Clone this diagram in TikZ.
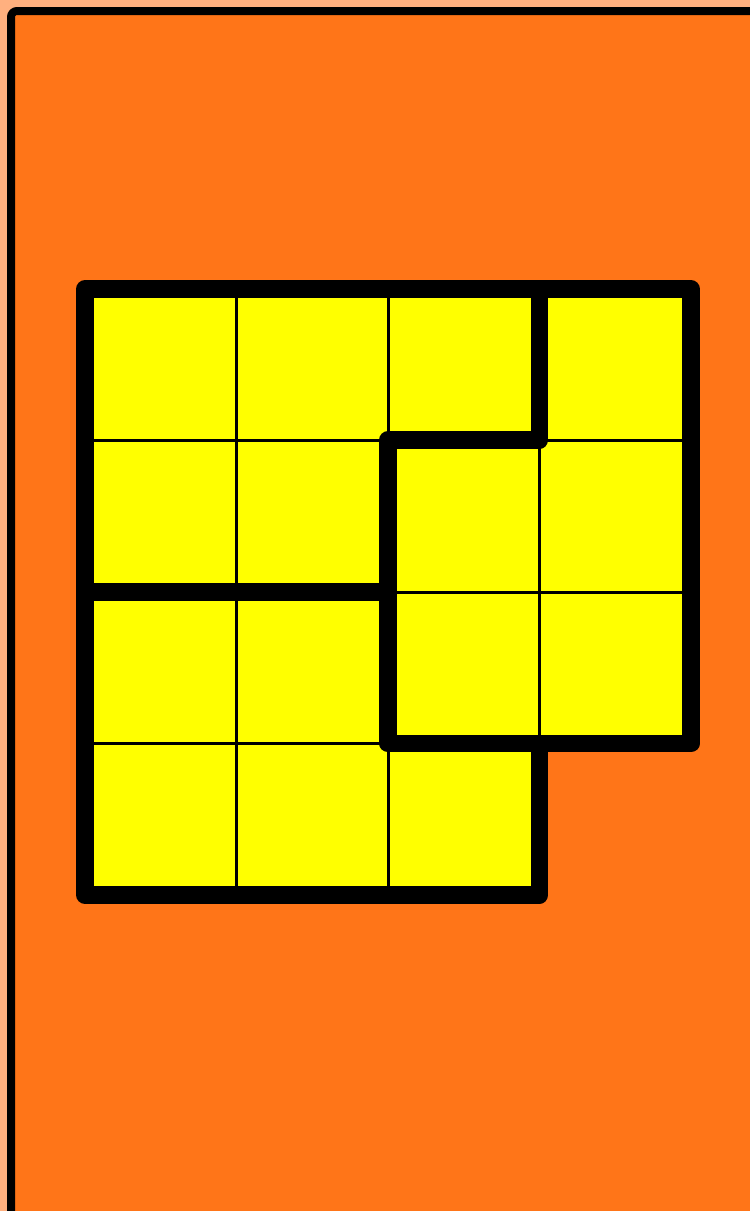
\documentclass[tikz,border=0pt]{standalone}
\definecolor{peach}{HTML}{FFB07F}
\definecolor{pumpkin}{HTML}{FF7518}
\definecolor{cellyellow}{HTML}{FFFF00}
\tikzset{
  thin grid/.style={line width=3pt, black},
  thick wall/.style={line width=17.5pt, black, line cap=round, line join=round},
}
\begin{document}
\begin{tikzpicture}[x=1pt,y=-1pt]
\useasboundingbox (0,0) rectangle (750,1211);
\fill[peach] (0,0) rectangle (750,1211);
\begin{scope}
\clip (0,0) rectangle (750,1211);
\draw[line width=8pt, fill=pumpkin, rounded corners=6pt] (11,11) rectangle (820,1280);
\end{scope}
% grid coordinates
\def\xa{85}\def\xb{236.5}\def\xc{388}\def\xd{539.5}\def\xe{691}
\def\ya{289}\def\yb{440}\def\yc{592}\def\yd{743.5}\def\ye{895}
% yellow cells
\fill[cellyellow] (\xa,\ya) -- (\xe,\ya) -- (\xe,\yd) -- (\xd,\yd) -- (\xd,\ye) -- (\xa,\ye) -- cycle;
% thin grid lines
\draw[thin grid] (\xb,\ya) -- (\xb,\ye);
\draw[thin grid] (\xc,\ya) -- (\xc,\yb);
\draw[thin grid] (\xc,\yd) -- (\xc,\ye);
\draw[thin grid] (\xd,\yb) -- (\xd,\yd);
\draw[thin grid] (\xa,\yb) -- (\xc,\yb);
\draw[thin grid] (\xd,\yb) -- (\xe,\yb);
\draw[thin grid] (\xc,\yc) -- (\xe,\yc);
\draw[thin grid] (\xa,\yd) -- (\xc,\yd);
% thick region walls
\draw[thick wall] (\xa,\ya) -- (\xe,\ya) -- (\xe,\yd) -- (\xd,\yd) -- (\xd,\ye) -- (\xa,\ye) -- cycle;
\draw[thick wall] (\xd,\ya) -- (\xd,\yb) -- (\xc,\yb) -- (\xc,\yd) -- (\xd,\yd);
\draw[thick wall] (\xa,\yc) -- (\xc,\yc);
\end{tikzpicture}
\end{document}
